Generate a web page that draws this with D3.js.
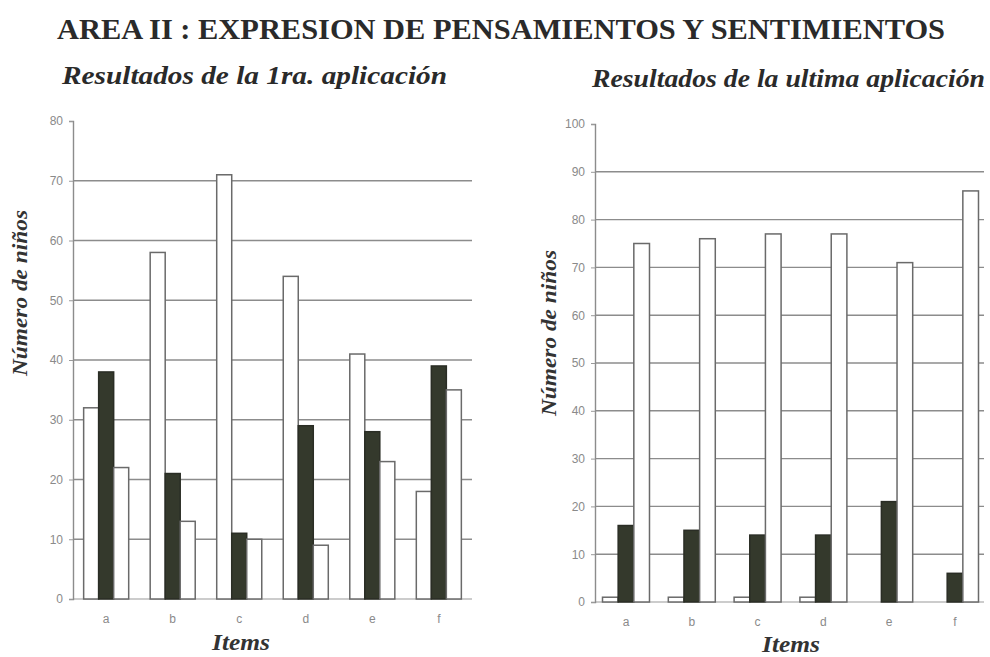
<!DOCTYPE html>
<html>
<head>
<meta charset="utf-8">
<script src="https://cdn.jsdelivr.net/npm/d3@7"></script>
<style>
  html, body { margin: 0; padding: 0; background: #fff; }
  svg { display: block; }
</style>
</head>
<body>
<svg id="chart" width="990" height="657"></svg>
<script>
// ---------- DATA ----------
const categories = ["a", "b", "c", "d", "e", "f"];
const seriesKeys = ["s1", "s2", "s3"];

// Resultados de la 1ra. aplicación
const first_s1 = [32, 58, 71, 54, 41, 18];
const first_s2 = [38, 21, 11, 29, 28, 39];
const first_s3 = [22, 13, 10, 9, 23, 35];
const firstTicks = [0, 10, 20, 30, 40, 50, 60, 70, 80];

// Resultados de la ultima aplicación
const last_s1 = [1, 1, 1, 1, 0, 0];
const last_s2 = [16, 15, 14, 14, 21, 6];
const last_s3 = [75, 76, 77, 77, 71, 86];
const lastTicks = [0, 10, 20, 30, 40, 50, 60, 70, 80, 90, 100];

const mainTitle = "AREA II : EXPRESION DE PENSAMIENTOS Y SENTIMIENTOS";
const leftTitle = "Resultados de la 1ra. aplicación";
const rightTitle = "Resultados de la ultima aplicación";
const yLabel = "Número de niños";
const xLabel = "Items";

// ---------- DRAW ----------
const svg = d3.select("#chart");
const serif = "'Liberation Serif', 'DejaVu Serif', serif";
const sans = "'Liberation Sans', Arial, sans-serif";

svg.append("text")
  .attr("x", 57).attr("y", 39)
  .attr("textLength", 888).attr("lengthAdjust", "spacingAndGlyphs")
  .style("font-family", serif).style("font-weight", "bold")
  .style("font-size", "30px").style("fill", "#2a2a2a")
  .text(mainTitle);

const fills = { s1: "#ffffff", s2: "#34392c", s3: "#ffffff" };
const strokes = { s1: "#6a6a6a", s2: "#2a2d25", s3: "#6a6a6a" };

function drawPanel(cfg) {
  const g = svg.append("g");
  const x = d3.scaleBand().domain(categories)
    .range([cfg.x0, cfg.x1]).paddingInner(cfg.pIn).paddingOuter(cfg.pOut);
  const xs = d3.scaleBand().domain(seriesKeys).range([0, x.bandwidth()]);
  const y = d3.scaleLinear().domain([0, cfg.max]).range([cfg.yBottom, cfg.yTop]);

  // subtitle
  g.append("text")
    .attr("x", cfg.titleX).attr("y", cfg.titleY)
    .attr("textLength", cfg.titleLen).attr("lengthAdjust", "spacingAndGlyphs")
    .style("font-family", serif).style("font-weight", "bold").style("font-style", "italic")
    .style("font-size", "26px").style("fill", "#2a2a2a")
    .text(cfg.title);

  // gridlines
  g.append("g").selectAll("line")
    .data(cfg.ticks.filter(t => t > 0 && t < cfg.max))
    .join("line")
    .attr("x1", cfg.x0).attr("x2", cfg.gridEnd)
    .attr("y1", d => y(d)).attr("y2", d => y(d))
    .attr("stroke", "#8c8c8c").attr("stroke-width", 1.4);

  // baseline
  g.append("line")
    .attr("x1", cfg.x0).attr("x2", cfg.gridEnd)
    .attr("y1", y(0)).attr("y2", y(0))
    .attr("stroke", "#9a9a9a").attr("stroke-width", 1.2);

  // bars
  const rows = categories.map((c, i) => ({
    cat: c,
    vals: [
      { key: "s1", v: cfg.s1[i] },
      { key: "s2", v: cfg.s2[i] },
      { key: "s3", v: cfg.s3[i] }
    ]
  }));
  const grp = g.append("g").selectAll("g").data(rows).join("g")
    .attr("transform", d => `translate(${x(d.cat)},0)`);
  grp.selectAll("rect").data(d => d.vals.filter(v => v.v > 0)).join("rect")
    .attr("x", d => xs(d.key))
    .attr("width", xs.bandwidth())
    .attr("y", d => y(d.v))
    .attr("height", d => y(0) - y(d.v))
    .attr("fill", d => fills[d.key])
    .attr("stroke", d => strokes[d.key])
    .attr("stroke-width", 1.5);

  // y axis
  const ax = g.append("g")
    .attr("transform", `translate(${cfg.x0},0)`)
    .call(d3.axisLeft(y).tickValues(cfg.ticks).tickSize(4).tickPadding(6));
  ax.select(".domain").attr("stroke", "#8c8c8c").attr("stroke-width", 1.4);
  ax.selectAll(".tick line").attr("stroke", "#999");
  ax.selectAll(".tick text").style("font-family", sans).style("font-size", "12px")
    .style("fill", "#8a8a8a");

  // x category labels
  g.append("g").selectAll("text").data(categories).join("text")
    .attr("x", d => x(d) + x.bandwidth() / 2)
    .attr("y", cfg.yBottom + 24)
    .attr("text-anchor", "middle")
    .style("font-family", sans).style("font-size", "12px").style("fill", "#8a8a8a")
    .text(d => d);

  // y label
  g.append("text")
    .attr("transform", `translate(${cfg.yLabX},${cfg.yLabY}) rotate(-90)`)
    .attr("text-anchor", "middle")
    .attr("textLength", 166).attr("lengthAdjust", "spacingAndGlyphs")
    .style("font-family", serif).style("font-weight", "bold").style("font-style", "italic")
    .style("font-size", "21px").style("fill", "#333")
    .text(yLabel);

  // x label
  g.append("text")
    .attr("x", cfg.xLabX - 29).attr("y", cfg.xLabY)
    .attr("textLength", 58).attr("lengthAdjust", "spacingAndGlyphs")
    .style("font-family", serif).style("font-weight", "bold").style("font-style", "italic")
    .style("font-size", "23px").style("fill", "#333")
    .text(xLabel);
}

drawPanel({
  x0: 73, x1: 472, gridEnd: 472, pIn: 0.323, pOut: 0.16,
  yBottom: 599, yTop: 121, max: 80, ticks: firstTicks,
  s1: first_s1, s2: first_s2, s3: first_s3,
  title: leftTitle, titleX: 62, titleY: 84, titleLen: 385,
  yLabX: 27, yLabY: 293, xLabX: 241, xLabY: 650
});

drawPanel({
  x0: 595, x1: 986, gridEnd: 984, pIn: 0.286, pOut: 0.114,
  yBottom: 602, yTop: 124, max: 100, ticks: lastTicks,
  s1: last_s1, s2: last_s2, s3: last_s3,
  title: rightTitle, titleX: 592, titleY: 87, titleLen: 393,
  yLabX: 556, yLabY: 333, xLabX: 791, xLabY: 652
});
</script>
</body>
</html>
